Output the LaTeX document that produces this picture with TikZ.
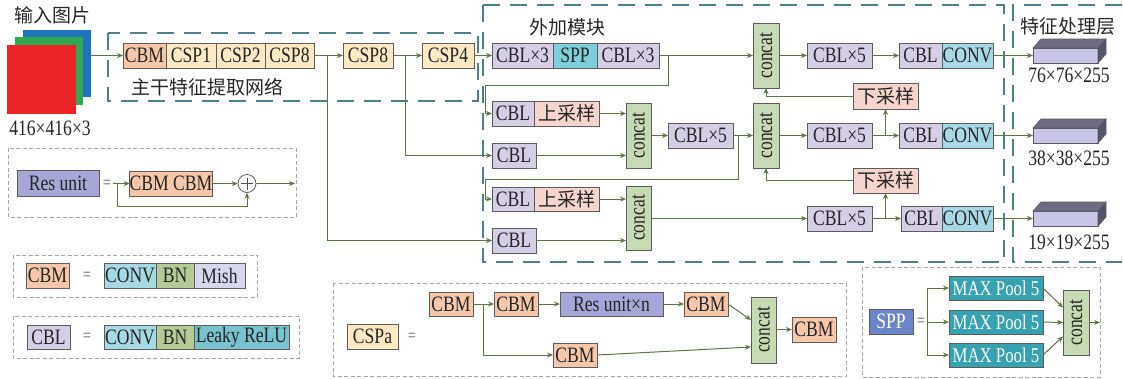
\documentclass[tikz,border=0pt]{standalone}
\usepackage{fontspec}
\setmainfont{Liberation Serif}[FakeStretch=0.8]
\newfontfamily\cjk{Noto Sans CJK SC}
\usetikzlibrary{arrows.meta,calc}
\definecolor{cbmc}{HTML}{F7C7AA}
\definecolor{cspc}{HTML}{FDE9C3}
\definecolor{cblc}{HTML}{D5CFE5}
\definecolor{sppc}{HTML}{7ED0D8}
\definecolor{convc}{HTML}{A6D9E3}
\definecolor{sampc}{HTML}{F5D5CE}
\definecolor{catc}{HTML}{C6DAB4}
\definecolor{bnc}{HTML}{B4CB96}
\definecolor{mishc}{HTML}{D8D7EE}
\definecolor{leakyc}{HTML}{78C3CE}
\definecolor{resc}{HTML}{A7A6D8}
\definecolor{maxpc}{HTML}{37A2B1}
\definecolor{spplc}{HTML}{6A86C8}
\definecolor{arrc}{HTML}{5B7543}
\definecolor{bordc}{HTML}{5C5C5C}
\definecolor{dashc}{HTML}{4F7F8A}
\definecolor{facec}{HTML}{C9C5E6}
\definecolor{topc}{HTML}{6E6B82}
\definecolor{sidec}{HTML}{55536A}
\definecolor{imgb}{HTML}{1F73BE}
\definecolor{imgg}{HTML}{2FA84F}
\definecolor{imgr}{HTML}{EC2327}
\newcommand\zh[1]{{\cjk\fontsize{19}{23}\selectfont #1}}
\newcommand\bx[7]{\node[#6, minimum width={#4-#2}, minimum height={#5-#3}] (#1) at ({(#2+#4)/2},{(#3+#5)/2}) {#7};}
\newcommand\catbox[5]{\bx{#1}{#2}{#3}{#4}{#5}{catst}{\rotatebox{90}{concat}}}
\newcommand\cube[5]{\bx{#1}{#2}{#3}{#4}{#5}{facest}{}
  \filldraw[fill=topc, draw=bordc, line width=0.6pt] (#1.north west) -- ++(8,-9) -- ($(#1.north east)+(8,-9)$) -- (#1.north east) -- cycle;
  \filldraw[fill=sidec, draw=bordc, line width=0.6pt] (#1.north east) -- ++(8,-9) -- ($(#1.south east)+(8,-9)$) -- (#1.south east) -- cycle;}
\tikzset{
  box/.style={draw=bordc, line width=0.7pt, inner sep=0pt, outer sep=0pt, font=\fontsize{22}{26}\selectfont, text=black!85},
  cbm/.style={box, fill=cbmc},
  csp/.style={box, fill=cspc},
  cbl/.style={box, fill=cblc},
  sppst/.style={box, fill=sppc},
  conv/.style={box, fill=convc},
  samp/.style={box, fill=sampc},
  catst/.style={box, fill=catc},
  bnst/.style={box, fill=bnc},
  mishst/.style={box, fill=mishc},
  leakyst/.style={box, fill=leakyc},
  resst/.style={box, fill=resc},
  maxp/.style={box, fill=maxpc, text=white, font=\fontsize{21}{25}\selectfont},
  sppl/.style={box, fill=spplc, text=white},
  facest/.style={box, fill=facec, line width=0.6pt},
  conn/.style={draw=arrc, line width=1pt, -{Stealth[length=6pt,width=5pt]}},
  plainln/.style={draw=arrc, line width=1pt},
  bigdash/.style={draw=dashc, line width=1.6pt, dash pattern=on 17pt off 10pt},
  smalldash/.style={draw=black!35, line width=0.8pt, dash pattern=on 4pt off 2.5pt},
  lbl/.style={inner sep=0pt, font=\fontsize{22}{26}\selectfont, text=black!85},
  eq/.style={inner sep=0pt, font=\fontsize{18}{22}\selectfont, text=black!60},
}
\begin{document}
\begin{tikzpicture}[x=1pt,y=-1pt]
\useasboundingbox (0,0) rectangle (1123,378);
% dashed frames
\draw[bigdash] (108,33) rectangle (478,101);
\draw[bigdash] (483,5) rectangle (1004,262);
\draw[bigdash] (1122,5) -- (1013,5) -- (1013,262) -- (1122,262);
\draw[smalldash] (8,148) rectangle (296,217);
\draw[smalldash] (13,255) rectangle (257,297);
\draw[smalldash] (13,316) rectangle (299,358);
\draw[smalldash] (333,283) rectangle (846,376);
\draw[smalldash] (862,267) rectangle (1100,377);
% input image
\node[lbl] (inlbl) at (52,15) {\zh{输入图片}};
\fill[imgb] (23,30) rectangle (91,97);
\node[inner sep=0pt, minimum width=68, minimum height=67] (imgB) at (57,63.5) {};
\fill[imgg] (15,37) rectangle (83,105);
\fill[imgr] (7,45) rectangle (76,114);
\node[lbl] (insize) at (50,128) {416×416×3};
% backbone
\bx{cbm}{123}{43}{166}{68}{cbm}{CBM}
\bx{csp1}{166}{43}{216}{68}{csp}{CSP1}
\bx{csp2}{216}{43}{265}{68}{csp}{CSP2}
\bx{csp8a}{265}{43}{314}{68}{csp}{CSP8}
\bx{csp8b}{343}{43}{393}{68}{csp}{CSP8}
\bx{csp4}{422}{43}{474}{68}{csp}{CSP4}
\node[lbl, anchor=west] (bblbl) at (131,87) {\zh{主干特征提取网络}};
\node[lbl] (necklbl) at (567,27) {\zh{外加模块}};
\node[lbl] (headlbl) at (1068,26) {\zh{特征处理层}};
% neck row 1
\bx{cblA}{492}{43}{553}{68}{cbl}{CBL×3}
\bx{sppA}{553}{43}{597}{68}{sppst}{SPP}
\bx{cblB}{597}{43}{659}{68}{cbl}{CBL×3}
\catbox{catA}{753}{23}{779}{88}
\bx{cbl5A}{807}{43}{872}{68}{cbl}{CBL×5}
\bx{cblC}{899}{43}{942}{68}{cbl}{CBL}
\bx{convA}{942}{43}{993}{68}{conv}{CONV}
% row 2
\bx{cblU1}{492}{101}{534}{126}{cbl}{CBL}
\bx{up1}{534}{101}{599}{126}{samp}{\zh{上采样}}
\bx{cblM}{492}{143}{536}{168}{cbl}{CBL}
\catbox{cat1}{626}{103}{651}{168}
\bx{cbl5M}{668}{123}{733}{148}{cbl}{CBL×5}
\catbox{cat2}{753}{103}{779}{168}
\bx{cbl5B}{807}{123}{872}{148}{cbl}{CBL×5}
\bx{cblD}{899}{123}{942}{148}{cbl}{CBL}
\bx{convB}{942}{123}{993}{148}{conv}{CONV}
\bx{down1}{853}{83}{918}{109}{samp}{\zh{下采样}}
% row 3
\bx{cblU2}{492}{187}{534}{211}{cbl}{CBL}
\bx{up2}{534}{187}{599}{211}{samp}{\zh{上采样}}
\bx{cblL}{492}{228}{536}{253}{cbl}{CBL}
\catbox{cat3}{626}{186}{651}{250}
\bx{cbl5C}{807}{206}{872}{231}{cbl}{CBL×5}
\bx{cblE}{901}{206}{942}{231}{cbl}{CBL}
\bx{convC}{942}{206}{993}{231}{conv}{CONV}
\bx{down2}{853}{168}{918}{193}{samp}{\zh{下采样}}
% outputs
\cube{out1}{1033}{48}{1098}{63}
\cube{out2}{1033}{128}{1098}{143}
\cube{out3}{1033}{211}{1098}{226}
\node[lbl] (o1lbl) at (1069,75) {76×76×255};
\node[lbl] (o2lbl) at (1069,158) {38×38×255};
\node[lbl] (o3lbl) at (1069,242) {19×19×255};
% backbone connectors
\draw[conn] (imgB.east |- cbm.west) -- (cbm.west);
\draw[conn] (csp8a.east) -- (csp8b.west);
\draw[conn] ($(csp8a.east)+(13,0)$) |- (cblL.west);
\draw[conn] (csp8b.east) -- (csp4.west);
\draw[conn] ($(csp8b.east)+(12,0)$) |- (cblM.west);
\draw[conn] (csp4.east) -- (cblA.west);
% neck connectors
\draw[conn] (cblB.east) -- (cblB.east -| catA.west);
\draw[conn] ($(cblB.east)+(9,0)$) -- ++(0,30) -| ($(cblU1.west)+(-7,0)$) -- (cblU1.west);
\draw[conn] (up1.east) -- (up1.east -| cat1.west);
\draw[conn] (cblM.east) -- (cblM.east -| cat1.west);
\draw[conn] (cat1.east |- cbl5M.west) -- (cbl5M.west);
\draw[conn] (cbl5M.east) -- (cbl5M.east -| cat2.west);
\draw[conn] ($(cbl5M.east)+(5,0)$) -- ++(0,43.5) -| ($(cblU2.west)+(-7,0)$) -- (cblU2.west);
\draw[conn] (up2.east) -- (up2.east -| cat3.west);
\draw[conn] (cblL.east) -- (cblL.east -| cat3.west);
\draw[conn] (cat3.east |- cbl5C.west) -- (cbl5C.west);
\draw[conn] (catA.east |- cbl5A.west) -- (cbl5A.west);
\draw[conn] (cat2.east |- cbl5B.west) -- (cbl5B.west);
\draw[conn] (cbl5A.east) -- (cblC.west);
\draw[conn] (cbl5B.east) -- (cblD.west);
\draw[conn] (cbl5C.east) -- (cblE.west);
\draw[conn] (down1.south |- cbl5B.east) -- (down1.south);
\draw[conn] (down2.south |- cbl5C.east) -- (down2.south);
\draw[conn] (down1.west) -| (catA.south);
\draw[conn] (down2.west) -| (cat2.south);
\draw[conn] (convA.east) -- (out1.west);
\draw[conn] (convB.east) -- (out2.west);
\draw[conn] (convC.east) -- (out3.west);
% Res unit legend
\bx{resu}{17}{170}{99}{196}{resst}{Res unit}
\node[eq] (eq1) at (107,184) {=};
\bx{cbmcbm}{130}{171}{212}{196}{cbm}{CBM CBM}
\node[circle, draw=black!70, fill=white, line width=0.7pt, minimum size=18pt, inner sep=0pt] (plus) at (247,183.5) {};
\draw[black!70, line width=0.7pt] ($(plus.center)+(-6,0)$) -- ($(plus.center)+(6,0)$) ($(plus.center)+(0,-6)$) -- ($(plus.center)+(0,6)$);
\coordinate (rs) at (113,183.5);
\coordinate (rsb) at (117,183.5);
\coordinate (re) at (295,183.5);
\draw[conn] (rs) -- (cbmcbm.west);
\draw[conn] (rsb) -- ++(0,23) -| (plus.south);
\draw[conn] (cbmcbm.east) -- (plus.west);
\draw[conn] (plus.east) -- (re);
% CBM legend
\bx{cbmL}{26}{263}{69}{288}{cbm}{CBM}
\node[eq] (eq2) at (87,276) {=};
\bx{convL1}{104}{263}{156}{288}{conv}{CONV}
\bx{bnL1}{156}{263}{194}{288}{bnst}{BN}
\bx{mishL}{194}{263}{245}{288}{mishst}{Mish}
% CBL legend
\bx{cblLg}{27}{325}{70}{349}{cbl}{CBL}
\node[eq] (eq3) at (87,337) {=};
\bx{convL2}{104}{325}{156}{349}{conv}{CONV}
\bx{bnL2}{156}{325}{194}{349}{bnst}{BN}
\bx{leakyL}{194}{325}{289}{349}{leakyst}{Leaky ReLU}
% CSPa legend
\bx{cspa}{347}{324}{398}{349}{csp}{CSPa}
\node[eq] (eq4) at (412,337) {=};
\bx{k1}{429}{292}{473}{316}{cbm}{CBM}
\bx{k2}{494}{292}{538}{316}{cbm}{CBM}
\bx{kres}{560}{292}{663}{316}{resst}{Res unit×n}
\bx{k3}{684}{292}{728}{316}{cbm}{CBM}
\bx{k4}{553}{343}{597}{367}{cbm}{CBM}
\catbox{kcat}{751}{297}{776}{363}
\bx{k5}{792}{317}{836}{342}{cbm}{CBM}
\draw[conn] (k1.east) -- (k2.west);
\draw[conn] ($(k1.east)+(10,0)$) |- (k4.west);
\draw[conn] (k2.east) -- (kres.west);
\draw[conn] (kres.east) -- (k3.west);
\draw[conn] (k3.east) -- ($(kcat.west)+(0,-10)$);
\draw[conn] (k4.east) -- ($(kcat.west)+(0,17)$);
\draw[conn] (kcat.east |- k5.west) -- (k5.west);
% SPP legend
\bx{sppL}{869}{309}{913}{334}{sppl}{SPP}
\node[eq] (eq5) at (921,322) {=};
\bx{mp1}{949}{276}{1043}{300}{maxp}{MAX Pool 5}
\bx{mp2}{949}{310}{1043}{334}{maxp}{MAX Pool 5}
\bx{mp3}{949}{343}{1043}{367}{maxp}{MAX Pool 5}
\catbox{scat}{1063}{290}{1089}{355}
\coordinate (sb) at (927,322);
\coordinate (se) at (1100,322.5);
\draw[conn] (sb) |- (mp1.west);
\draw[conn] (sb) -- (mp2.west);
\draw[conn] (sb) |- (mp3.west);
\draw[conn] (mp1.east) -- ($(scat.west)+(0,-15)$);
\draw[conn] (mp2.east) -- (scat.west);
\draw[conn] (mp3.east) -- ($(scat.west)+(0,14)$);
\draw[conn] (scat.east) -- (se);
\end{tikzpicture}
\end{document}
